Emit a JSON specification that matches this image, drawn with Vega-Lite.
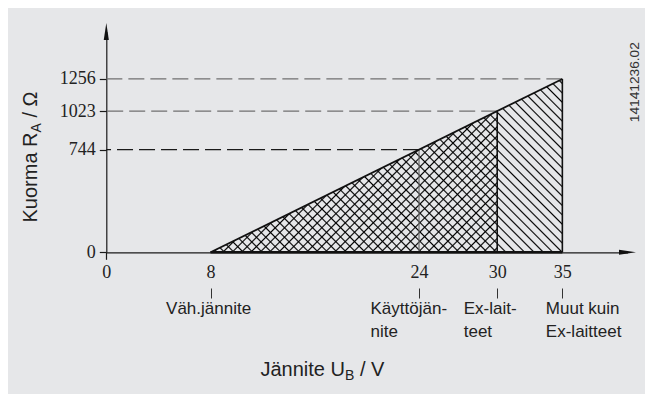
{
  "$schema": "https://vega.github.io/schema/vega-lite/v6.json",
  "width": 637,
  "height": 386,
  "autosize": "none",
  "padding": {"left": 8, "top": 8, "right": 0, "bottom": 0},
  "background": "#ffffff",
  "config": {
    "view": {"fill": "#e6e7e9", "stroke": null},
    "font": "Liberation Sans",
    "axis": {"grid": false, "labelFlush": false, "labelOverlap": false, "labelBound": false}
  },
  "datasets": {
    "tri": [{"u": 8, "r": 0}, {"u": 35, "r": 1256}],
    "cross": [{"u": 8, "r": 0}, {"u": 30, "r": 1023}],
    "levels": [{"u": 24, "r": 744}, {"u": 30, "r": 1023}, {"u": 35, "r": 1256}],
    "ends": [{"u": 40, "r": 0, "axis": "x"}, {"u": 0, "r": 1600, "axis": "y"}]
  },
  "resolve": {"axis": {"x": "independent", "y": "independent"}},
  "layer": [
    {
      "data": {"name": "tri"},
      "mark": {"type": "area", "opacity": 1, "stroke": null, "fill": {"gradient": "linear", "x1": 0, "y1": 1, "x2": 1.2012, "y2": 0.4082, "stops": [
        {"offset":0.0059,"color":"transparent"},{"offset":0.0089,"color":"#000"},{"offset":0.0119,"color":"transparent"},
        {"offset":0.0238,"color":"transparent"},{"offset":0.0268,"color":"#000"},{"offset":0.0298,"color":"transparent"},
        {"offset":0.0416,"color":"transparent"},{"offset":0.0446,"color":"#000"},{"offset":0.0476,"color":"transparent"},
        {"offset":0.0595,"color":"transparent"},{"offset":0.0625,"color":"#000"},{"offset":0.0655,"color":"transparent"},
        {"offset":0.0774,"color":"transparent"},{"offset":0.0804,"color":"#000"},{"offset":0.0834,"color":"transparent"},
        {"offset":0.0952,"color":"transparent"},{"offset":0.0982,"color":"#000"},{"offset":0.1012,"color":"transparent"},
        {"offset":0.1131,"color":"transparent"},{"offset":0.1161,"color":"#000"},{"offset":0.1191,"color":"transparent"},
        {"offset":0.1309,"color":"transparent"},{"offset":0.1339,"color":"#000"},{"offset":0.1369,"color":"transparent"},
        {"offset":0.1488,"color":"transparent"},{"offset":0.1518,"color":"#000"},{"offset":0.1548,"color":"transparent"},
        {"offset":0.1666,"color":"transparent"},{"offset":0.1696,"color":"#000"},{"offset":0.1726,"color":"transparent"},
        {"offset":0.1845,"color":"transparent"},{"offset":0.1875,"color":"#000"},{"offset":0.1905,"color":"transparent"},
        {"offset":0.2024,"color":"transparent"},{"offset":0.2054,"color":"#000"},{"offset":0.2084,"color":"transparent"},
        {"offset":0.2202,"color":"transparent"},{"offset":0.2232,"color":"#000"},{"offset":0.2262,"color":"transparent"},
        {"offset":0.2381,"color":"transparent"},{"offset":0.2411,"color":"#000"},{"offset":0.2441,"color":"transparent"},
        {"offset":0.2559,"color":"transparent"},{"offset":0.2589,"color":"#000"},{"offset":0.2619,"color":"transparent"},
        {"offset":0.2738,"color":"transparent"},{"offset":0.2768,"color":"#000"},{"offset":0.2798,"color":"transparent"},
        {"offset":0.2916,"color":"transparent"},{"offset":0.2946,"color":"#000"},{"offset":0.2976,"color":"transparent"},
        {"offset":0.3095,"color":"transparent"},{"offset":0.3125,"color":"#000"},{"offset":0.3155,"color":"transparent"},
        {"offset":0.3274,"color":"transparent"},{"offset":0.3304,"color":"#000"},{"offset":0.3334,"color":"transparent"},
        {"offset":0.3452,"color":"transparent"},{"offset":0.3482,"color":"#000"},{"offset":0.3512,"color":"transparent"},
        {"offset":0.3631,"color":"transparent"},{"offset":0.3661,"color":"#000"},{"offset":0.3691,"color":"transparent"},
        {"offset":0.3809,"color":"transparent"},{"offset":0.3839,"color":"#000"},{"offset":0.3869,"color":"transparent"},
        {"offset":0.3988,"color":"transparent"},{"offset":0.4018,"color":"#000"},{"offset":0.4048,"color":"transparent"},
        {"offset":0.4166,"color":"transparent"},{"offset":0.4196,"color":"#000"},{"offset":0.4226,"color":"transparent"},
        {"offset":0.4345,"color":"transparent"},{"offset":0.4375,"color":"#000"},{"offset":0.4405,"color":"transparent"},
        {"offset":0.4524,"color":"transparent"},{"offset":0.4554,"color":"#000"},{"offset":0.4584,"color":"transparent"},
        {"offset":0.4702,"color":"transparent"},{"offset":0.4732,"color":"#000"},{"offset":0.4762,"color":"transparent"},
        {"offset":0.4881,"color":"transparent"},{"offset":0.4911,"color":"#000"},{"offset":0.4941,"color":"transparent"},
        {"offset":0.5059,"color":"transparent"},{"offset":0.5089,"color":"#000"},{"offset":0.5119,"color":"transparent"},
        {"offset":0.5238,"color":"transparent"},{"offset":0.5268,"color":"#000"},{"offset":0.5298,"color":"transparent"},
        {"offset":0.5416,"color":"transparent"},{"offset":0.5446,"color":"#000"},{"offset":0.5476,"color":"transparent"},
        {"offset":0.5595,"color":"transparent"},{"offset":0.5625,"color":"#000"},{"offset":0.5655,"color":"transparent"},
        {"offset":0.5774,"color":"transparent"},{"offset":0.5804,"color":"#000"},{"offset":0.5834,"color":"transparent"},
        {"offset":0.5952,"color":"transparent"},{"offset":0.5982,"color":"#000"},{"offset":0.6012,"color":"transparent"},
        {"offset":0.6131,"color":"transparent"},{"offset":0.6161,"color":"#000"},{"offset":0.6191,"color":"transparent"},
        {"offset":0.6309,"color":"transparent"},{"offset":0.6339,"color":"#000"},{"offset":0.6369,"color":"transparent"},
        {"offset":0.6488,"color":"transparent"},{"offset":0.6518,"color":"#000"},{"offset":0.6548,"color":"transparent"},
        {"offset":0.6666,"color":"transparent"},{"offset":0.6696,"color":"#000"},{"offset":0.6726,"color":"transparent"},
        {"offset":0.6845,"color":"transparent"},{"offset":0.6875,"color":"#000"},{"offset":0.6905,"color":"transparent"},
        {"offset":0.7024,"color":"transparent"},{"offset":0.7054,"color":"#000"},{"offset":0.7084,"color":"transparent"},
        {"offset":0.7202,"color":"transparent"},{"offset":0.7232,"color":"#000"},{"offset":0.7262,"color":"transparent"},
        {"offset":0.7381,"color":"transparent"},{"offset":0.7411,"color":"#000"},{"offset":0.7441,"color":"transparent"},
        {"offset":0.7559,"color":"transparent"},{"offset":0.7589,"color":"#000"},{"offset":0.7619,"color":"transparent"},
        {"offset":0.7738,"color":"transparent"},{"offset":0.7768,"color":"#000"},{"offset":0.7798,"color":"transparent"},
        {"offset":0.7916,"color":"transparent"},{"offset":0.7946,"color":"#000"},{"offset":0.7976,"color":"transparent"},
        {"offset":0.8095,"color":"transparent"},{"offset":0.8125,"color":"#000"},{"offset":0.8155,"color":"transparent"},
        {"offset":0.8274,"color":"transparent"},{"offset":0.8304,"color":"#000"},{"offset":0.8334,"color":"transparent"},
        {"offset":0.8452,"color":"transparent"},{"offset":0.8482,"color":"#000"},{"offset":0.8512,"color":"transparent"},
        {"offset":0.8631,"color":"transparent"},{"offset":0.8661,"color":"#000"},{"offset":0.8691,"color":"transparent"},
        {"offset":0.8809,"color":"transparent"},{"offset":0.8839,"color":"#000"},{"offset":0.8869,"color":"transparent"},
        {"offset":0.8988,"color":"transparent"},{"offset":0.9018,"color":"#000"},{"offset":0.9048,"color":"transparent"},
        {"offset":0.9166,"color":"transparent"},{"offset":0.9196,"color":"#000"},{"offset":0.9226,"color":"transparent"},
        {"offset":0.9345,"color":"transparent"},{"offset":0.9375,"color":"#000"},{"offset":0.9405,"color":"transparent"},
        {"offset":0.9524,"color":"transparent"},{"offset":0.9554,"color":"#000"},{"offset":0.9584,"color":"transparent"},
        {"offset":0.9702,"color":"transparent"},{"offset":0.9732,"color":"#000"},{"offset":0.9762,"color":"transparent"},
        {"offset":0.9881,"color":"transparent"},{"offset":0.9911,"color":"#000"},{"offset":0.9941,"color":"transparent"}
      ]}},
      "encoding": {
        "x": {"field": "u", "type": "quantitative",
          "scale": {"domain": [0, 40], "range": [98.3, 619.5], "nice": false, "zero": false},
          "axis": {"orient": "bottom", "offset": -141.7, "values": [0, 8, 24, 30, 35], "format": "d",
            "domainColor": "#1a1a1a", "domainWidth": 1.2,
            "tickSize": 7, "tickColor": "#1a1a1a", "tickWidth": 1.2,
            "tickOpacity": {"condition": {"test": "datum.value === 0", "value": 1}, "value": 0},
            "labelFont": "Liberation Sans Narrow", "labelFontSize": 18, "labelColor": "#222222", "labelPadding": 4,
            "title": "Jännite U", "titleFont": "Liberation Sans", "titleFontSize": 20, "titleFontWeight": "normal", "titleColor": "#222222",
            "titleAngle": 0, "titleAlign": "left", "titleBaseline": "alphabetic", "titleX": 252, "titleY": 122.7}},
        "y": {"field": "r", "type": "quantitative",
          "scale": {"domain": [0, 1600], "range": [244.3, 23.5], "nice": false, "zero": false},
          "axis": {"orient": "left", "offset": -98.3, "values": [0, 744, 1023, 1256], "format": "d",
            "domainColor": "#1a1a1a", "domainWidth": 1.2,
            "tickSize": 7, "tickColor": "#1a1a1a", "tickWidth": 1.2,
            "labelFont": "Liberation Sans Narrow", "labelFontSize": 18, "labelColor": "#222222", "labelPadding": 4, "labelBaseline": "middle",
            "title": "Kuorma R", "titleFont": "Liberation Sans", "titleFontSize": 20, "titleFontWeight": "normal", "titleColor": "#222222",
            "titleAngle": 270, "titleAlign": "left", "titleBaseline": "alphabetic", "titleX": -69.8, "titleY": 214}},
        "y2": {"datum": 0}
      }
    },
    {
      "data": {"name": "cross"},
      "mark": {"type": "area", "opacity": 1, "stroke": null, "fill": {"gradient": "linear", "x1": 0, "y1": 0, "x2": 1.2012, "y2": 0.5915, "stops": [
        {"offset":0.0072,"color":"transparent"},{"offset":0.0109,"color":"#000"},{"offset":0.0146,"color":"transparent"},
        {"offset":0.0289,"color":"transparent"},{"offset":0.0326,"color":"#000"},{"offset":0.0363,"color":"transparent"},
        {"offset":0.0506,"color":"transparent"},{"offset":0.0543,"color":"#000"},{"offset":0.0580,"color":"transparent"},
        {"offset":0.0724,"color":"transparent"},{"offset":0.0761,"color":"#000"},{"offset":0.0798,"color":"transparent"},
        {"offset":0.0941,"color":"transparent"},{"offset":0.0978,"color":"#000"},{"offset":0.1015,"color":"transparent"},
        {"offset":0.1159,"color":"transparent"},{"offset":0.1196,"color":"#000"},{"offset":0.1233,"color":"transparent"},
        {"offset":0.1376,"color":"transparent"},{"offset":0.1413,"color":"#000"},{"offset":0.1450,"color":"transparent"},
        {"offset":0.1593,"color":"transparent"},{"offset":0.1630,"color":"#000"},{"offset":0.1667,"color":"transparent"},
        {"offset":0.1811,"color":"transparent"},{"offset":0.1848,"color":"#000"},{"offset":0.1885,"color":"transparent"},
        {"offset":0.2028,"color":"transparent"},{"offset":0.2065,"color":"#000"},{"offset":0.2102,"color":"transparent"},
        {"offset":0.2246,"color":"transparent"},{"offset":0.2283,"color":"#000"},{"offset":0.2320,"color":"transparent"},
        {"offset":0.2463,"color":"transparent"},{"offset":0.2500,"color":"#000"},{"offset":0.2537,"color":"transparent"},
        {"offset":0.2680,"color":"transparent"},{"offset":0.2717,"color":"#000"},{"offset":0.2754,"color":"transparent"},
        {"offset":0.2898,"color":"transparent"},{"offset":0.2935,"color":"#000"},{"offset":0.2972,"color":"transparent"},
        {"offset":0.3115,"color":"transparent"},{"offset":0.3152,"color":"#000"},{"offset":0.3189,"color":"transparent"},
        {"offset":0.3333,"color":"transparent"},{"offset":0.3370,"color":"#000"},{"offset":0.3407,"color":"transparent"},
        {"offset":0.3550,"color":"transparent"},{"offset":0.3587,"color":"#000"},{"offset":0.3624,"color":"transparent"},
        {"offset":0.3767,"color":"transparent"},{"offset":0.3804,"color":"#000"},{"offset":0.3841,"color":"transparent"},
        {"offset":0.3985,"color":"transparent"},{"offset":0.4022,"color":"#000"},{"offset":0.4059,"color":"transparent"},
        {"offset":0.4202,"color":"transparent"},{"offset":0.4239,"color":"#000"},{"offset":0.4276,"color":"transparent"},
        {"offset":0.4420,"color":"transparent"},{"offset":0.4457,"color":"#000"},{"offset":0.4494,"color":"transparent"},
        {"offset":0.4637,"color":"transparent"},{"offset":0.4674,"color":"#000"},{"offset":0.4711,"color":"transparent"},
        {"offset":0.4854,"color":"transparent"},{"offset":0.4891,"color":"#000"},{"offset":0.4928,"color":"transparent"},
        {"offset":0.5072,"color":"transparent"},{"offset":0.5109,"color":"#000"},{"offset":0.5146,"color":"transparent"},
        {"offset":0.5289,"color":"transparent"},{"offset":0.5326,"color":"#000"},{"offset":0.5363,"color":"transparent"},
        {"offset":0.5506,"color":"transparent"},{"offset":0.5543,"color":"#000"},{"offset":0.5580,"color":"transparent"},
        {"offset":0.5724,"color":"transparent"},{"offset":0.5761,"color":"#000"},{"offset":0.5798,"color":"transparent"},
        {"offset":0.5941,"color":"transparent"},{"offset":0.5978,"color":"#000"},{"offset":0.6015,"color":"transparent"},
        {"offset":0.6159,"color":"transparent"},{"offset":0.6196,"color":"#000"},{"offset":0.6233,"color":"transparent"},
        {"offset":0.6376,"color":"transparent"},{"offset":0.6413,"color":"#000"},{"offset":0.6450,"color":"transparent"},
        {"offset":0.6593,"color":"transparent"},{"offset":0.6630,"color":"#000"},{"offset":0.6667,"color":"transparent"},
        {"offset":0.6811,"color":"transparent"},{"offset":0.6848,"color":"#000"},{"offset":0.6885,"color":"transparent"},
        {"offset":0.7028,"color":"transparent"},{"offset":0.7065,"color":"#000"},{"offset":0.7102,"color":"transparent"},
        {"offset":0.7246,"color":"transparent"},{"offset":0.7283,"color":"#000"},{"offset":0.7320,"color":"transparent"},
        {"offset":0.7463,"color":"transparent"},{"offset":0.7500,"color":"#000"},{"offset":0.7537,"color":"transparent"},
        {"offset":0.7680,"color":"transparent"},{"offset":0.7717,"color":"#000"},{"offset":0.7754,"color":"transparent"},
        {"offset":0.7898,"color":"transparent"},{"offset":0.7935,"color":"#000"},{"offset":0.7972,"color":"transparent"},
        {"offset":0.8115,"color":"transparent"},{"offset":0.8152,"color":"#000"},{"offset":0.8189,"color":"transparent"},
        {"offset":0.8333,"color":"transparent"},{"offset":0.8370,"color":"#000"},{"offset":0.8407,"color":"transparent"},
        {"offset":0.8550,"color":"transparent"},{"offset":0.8587,"color":"#000"},{"offset":0.8624,"color":"transparent"},
        {"offset":0.8767,"color":"transparent"},{"offset":0.8804,"color":"#000"},{"offset":0.8841,"color":"transparent"},
        {"offset":0.8985,"color":"transparent"},{"offset":0.9022,"color":"#000"},{"offset":0.9059,"color":"transparent"},
        {"offset":0.9202,"color":"transparent"},{"offset":0.9239,"color":"#000"},{"offset":0.9276,"color":"transparent"},
        {"offset":0.9420,"color":"transparent"},{"offset":0.9457,"color":"#000"},{"offset":0.9494,"color":"transparent"},
        {"offset":0.9637,"color":"transparent"},{"offset":0.9674,"color":"#000"},{"offset":0.9711,"color":"transparent"},
        {"offset":0.9854,"color":"transparent"},{"offset":0.9891,"color":"#000"},{"offset":0.9928,"color":"transparent"}
      ]}},
      "encoding": {
        "x": {"field": "u", "type": "quantitative",
          "axis": {"orient": "bottom", "offset": -106, "values": [8, 24, 30, 35], "domain": false,
            "tickSize": 10, "tickColor": "#333333", "tickWidth": 1,
            "labelExpr": "datum.value == 8 ? 'Väh.jännite' : datum.value == 24 ? ['Käyttöjän-', 'nite'] : datum.value == 30 ? ['Ex-lait-', 'teet'] : ['Muut kuin', 'Ex-laitteet']",
            "labelAlign": "left", "labelBaseline": "top",
            "labelOffset": {"condition": [{"test": "datum.value == 8", "value": -45}, {"test": "datum.value == 24", "value": -49}, {"test": "datum.value == 30", "value": -34}], "value": -17},
            "labelFont": "Liberation Sans", "labelFontSize": 17, "labelLineHeight": 23, "labelPadding": 2.5, "labelColor": "#222222",
            "title": "B", "titleFont": "Liberation Sans", "titleFontSize": 14, "titleFontWeight": "normal", "titleColor": "#222222",
            "titleAngle": 0, "titleAlign": "left", "titleBaseline": "alphabetic", "titleX": 336.5, "titleY": 91}},
        "y": {"field": "r", "type": "quantitative",
          "axis": {"orient": "left", "offset": -98.3, "domain": false, "ticks": false, "labels": false,
            "title": "A", "titleFont": "Liberation Sans", "titleFontSize": 14, "titleFontWeight": "normal", "titleColor": "#222222",
            "titleAngle": 270, "titleAlign": "left", "titleBaseline": "alphabetic", "titleX": -65.8, "titleY": 124}},
        "y2": {"datum": 0}
      }
    },
    {
      "data": {"name": "levels"},
      "mark": {"type": "rule", "strokeDash": [16, 6], "strokeWidth": 1.2},
      "encoding": {
        "x": {"field": "u", "type": "quantitative",
          "axis": {"orient": "bottom", "offset": -141.7, "domain": false, "ticks": false, "labels": false,
            "title": "/ V", "titleFont": "Liberation Sans", "titleFontSize": 20, "titleFontWeight": "normal", "titleColor": "#222222",
            "titleAngle": 0, "titleAlign": "left", "titleBaseline": "alphabetic", "titleX": 351.4, "titleY": 122.7}},
        "x2": {"datum": 0},
        "y": {"field": "r", "type": "quantitative",
          "axis": {"orient": "left", "offset": -98.3, "domain": false, "ticks": false, "labels": false,
            "title": "/ Ω", "titleFont": "Liberation Sans", "titleFontSize": 20, "titleFontWeight": "normal", "titleColor": "#222222",
            "titleAngle": 270, "titleAlign": "left", "titleBaseline": "alphabetic", "titleX": -69.8, "titleY": 109.1}},
        "stroke": {"condition": {"test": "datum.r == 744", "value": "#1a1a1a"}, "value": "#707070"}
      }
    },
    {
      "data": {"name": "levels"},
      "mark": {"type": "rule"},
      "encoding": {
        "x": {"field": "u", "type": "quantitative", "axis": null},
        "y": {"field": "r", "type": "quantitative",
          "axis": {"orient": "right", "offset": 0, "domain": false, "ticks": false, "labels": false,
            "title": "14141236.02", "titleFont": "Liberation Sans", "titleFontSize": 13.7, "titleFontWeight": "normal", "titleColor": "#333333",
            "titleAngle": 270, "titleAlign": "right", "titleBaseline": "alphabetic", "titleX": -6.7, "titleY": 33.7}},
        "y2": {"datum": 0},
        "stroke": {"condition": {"test": "datum.u == 24", "value": "#6a6a6a"}, "value": "#111111"},
        "strokeWidth": {"condition": {"test": "datum.u == 24", "value": 1.2}, "value": 1.6}
      }
    },
    {
      "data": {"name": "tri"},
      "mark": {"type": "line", "color": "#111111", "strokeWidth": 1.8},
      "encoding": {
        "x": {"field": "u", "type": "quantitative", "axis": null},
        "y": {"field": "r", "type": "quantitative", "axis": null}
      }
    },
    {
      "data": {"name": "tri"},
      "mark": {"type": "line", "color": "#111111", "strokeWidth": 2.4},
      "encoding": {
        "x": {"field": "u", "type": "quantitative", "axis": null},
        "y": {"datum": 0, "type": "quantitative", "axis": null}
      }
    },
    {
      "data": {"name": "ends"},
      "mark": {"type": "point", "filled": true, "opacity": 1, "size": 289, "color": "#111111", "strokeWidth": 0},
      "encoding": {
        "x": {"field": "u", "type": "quantitative", "axis": null},
        "y": {"field": "r", "type": "quantitative", "axis": null},
        "shape": {"condition": {"test": "datum.axis == 'x'", "value": "M1,0L-1,-0.3L-1,0.3Z"}, "value": "M0,-1L-0.3,1L0.3,1Z"}
      }
    }
  ]
}
